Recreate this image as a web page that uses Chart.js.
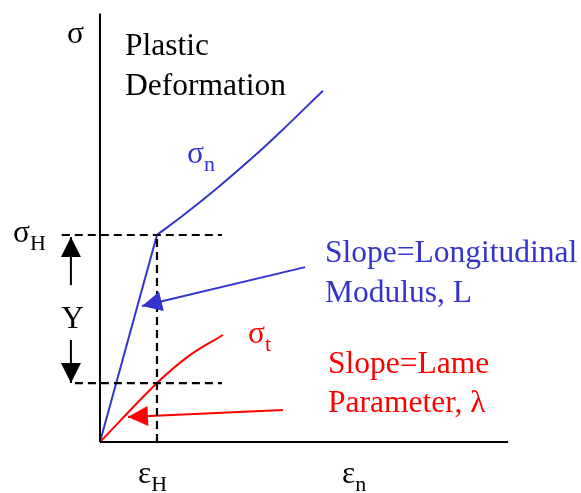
<!DOCTYPE html>
<html>
<head>
<meta charset="utf-8">
<script src="https://cdn.jsdelivr.net/npm/chart.js@4"></script>
<style>
  html, body { margin: 0; padding: 0; background: #fff; }
  #wrap { width: 581px; height: 493px; position: relative; }
</style>
</head>
<body>
<div id="wrap"><canvas id="stressChart"></canvas></div>
<script>
// strain in units of eps_H, stress in units of sigma_H
var elasticStrain = [0, 1];
var elasticStress = [0, 1];
var plasticStrain = [1, 1.456, 2.053, 2.632, 3.211, 3.912];
var plasticStress = [1, 1.094, 1.226, 1.363, 1.510, 1.697];
var transStrain = [0, 1, 1.579, 2.158];
var transStress = [0, 0.285, 0.420, 0.517];

var yieldStress = 1;       // sigma_H
var yieldStrain = 1;       // eps_H
var transAtYield = 0.285;  // sigma_t at eps_H

var BLUE = '#3434cc';
var RED = '#ff0000';
var FONT = '"Liberation Serif", "Times New Roman", serif';

function pts(xs, ys) {
    return xs.map(function(x, i) { return { x: x, y: ys[i] }; });
}

function line(data, color, width, dash, arrow, tension) {
    return {
        data: data,
        showLine: true,
        borderColor: color,
        backgroundColor: color,
        borderWidth: width,
        borderDash: dash || [],
        pointRadius: 0,
        tension: tension || 0,
        arrow: !!arrow
    };
}

var datasets = [
    // axes
    line([{ x: 0, y: 0 }, { x: 0, y: 2.07 }], '#000', 2),
    line([{ x: 0, y: 0 }, { x: 7.16, y: 0 }], '#000', 2),
    // guides at the yield point
    line([{ x: -0.67, y: yieldStress }, { x: 2.14, y: yieldStress }], '#000', 2.2, [8, 5]),
    line([{ x: -0.44, y: transAtYield }, { x: 2.14, y: transAtYield }], '#000', 2.2, [8, 5]),
    line([{ x: yieldStrain, y: 0 }, { x: yieldStrain, y: yieldStress }], '#000', 2.2, [8, 5]),
    // Y arrows
    line([{ x: -0.51, y: 0.758 }, { x: -0.51, y: 0.99 }], '#000', 2, null, true),
    line([{ x: -0.51, y: 0.493 }, { x: -0.51, y: transAtYield }], '#000', 2, null, true),
    // sigma_n
    line(pts(elasticStrain, elasticStress), BLUE, 2),
    line(pts(plasticStrain, plasticStress), BLUE, 2, null, false, 0.3),
    // sigma_t
    line(pts(transStrain, transStress), RED, 2, null, false, 0.3),
    // slope pointers
    line([{ x: 3.6, y: 0.845 }, { x: 0.737, y: 0.657 }], BLUE, 2, null, true),
    line([{ x: 3.21, y: 0.155 }, { x: 0.49, y: 0.121 }], RED, 2, null, true)
];

var labels = [
    { text: 'σ', x: -0.579, y: 1.928, color: '#000' },
    { text: 'Plastic', x: 0.439, y: 1.870, color: '#000' },
    { text: 'Deformation', x: 0.439, y: 1.676, color: '#000' },
    { text: 'σ', sub: 'n', x: 1.526, y: 1.348, color: BLUE },
    { text: 'σ', sub: 'H', x: -1.526, y: 0.966, color: '#000' },
    { text: 'Slope=Longitudinal', x: 3.947, y: 0.870, color: BLUE },
    { text: 'Modulus, L', x: 3.947, y: 0.676, color: BLUE },
    { text: 'σ', sub: 't', x: 2.596, y: 0.478, color: RED },
    { text: 'Slope=Lame', x: 4.0, y: 0.333, color: RED },
    { text: 'Parameter, λ', x: 4.0, y: 0.145, color: RED },
    { text: 'Y', x: -0.68, y: 0.551, color: '#000' },
    { text: 'ε', sub: 'H', x: 0.667, y: -0.198, color: '#000' },
    { text: 'ε', sub: 'n', x: 4.246, y: -0.198, color: '#000' }
];

// filled triangle at the last point of datasets flagged with arrow
var arrowHeads = {
    id: 'arrowHeads',
    afterDatasetsDraw: function(chart) {
        var ctx = chart.ctx;
        chart.data.datasets.forEach(function(ds, i) {
            if (!ds.arrow) return;
            var el = chart.getDatasetMeta(i).data;
            var a = el[el.length - 2], b = el[el.length - 1];
            var ang = Math.atan2(b.y - a.y, b.x - a.x);
            var len = 20, half = 10;
            ctx.save();
            ctx.translate(b.x, b.y);
            ctx.rotate(ang);
            ctx.beginPath();
            ctx.moveTo(0, 0);
            ctx.lineTo(-len, -half);
            ctx.lineTo(-len, half);
            ctx.closePath();
            ctx.fillStyle = ds.borderColor;
            ctx.fill();
            ctx.restore();
        });
    }
};

var textLabels = {
    id: 'textLabels',
    afterDraw: function(chart) {
        var ctx = chart.ctx;
        var sx = chart.scales.x, sy = chart.scales.y;
        ctx.save();
        ctx.textBaseline = 'alphabetic';
        labels.forEach(function(l) {
            var px = sx.getPixelForValue(l.x);
            var py = sy.getPixelForValue(l.y);
            ctx.fillStyle = l.color;
            ctx.font = '31.5px ' + FONT;
            ctx.fillText(l.text, px, py);
            if (l.sub) {
                var w = ctx.measureText(l.text).width;
                ctx.font = '22px ' + FONT;
                ctx.fillText(l.sub, px + w, py + 8);
            }
        });
        ctx.restore();
    }
};

var ctx1 = document.getElementById('stressChart').getContext('2d');

var chart = new Chart(ctx1, {
    type: 'scatter',
    data: { datasets: datasets },
    options: {
        responsive: true,
        maintainAspectRatio: false,
        animation: false,
        layout: { padding: 0 },
        scales: {
            x: { type: 'linear', display: false, min: -1.754, max: 8.439 },
            y: { type: 'linear', display: false, min: -0.246, max: 2.135 }
        },
        plugins: {
            legend: { display: false },
            tooltip: { enabled: false }
        }
    },
    plugins: [arrowHeads, textLabels]
});
</script>
</body>
</html>
